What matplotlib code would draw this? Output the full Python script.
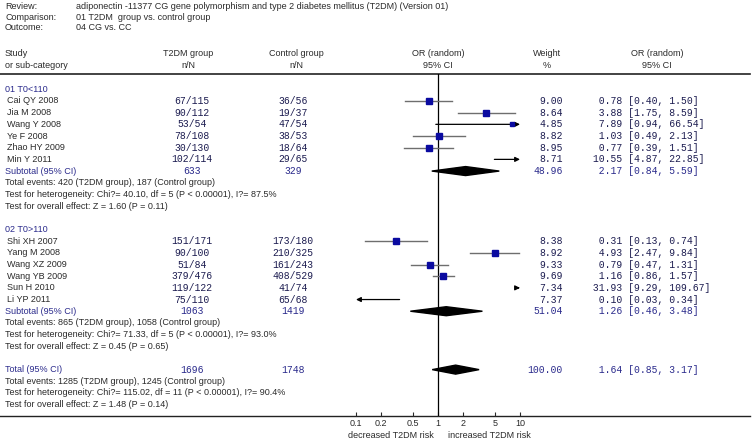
"""
RevMan 风格森林图：adiponectin -11377 CG 多态性与 T2DM
"""
import numpy as np
import matplotlib
matplotlib.use('Agg')
import matplotlib.pyplot as plt
from matplotlib.patches import Polygon

# ---- 数据 ----
review = 'adiponectin -11377 CG gene polymorphism and type 2 diabetes mellitus (T2DM) (Version 01)'
comparison = '01 T2DM  group vs. control group'
outcome = '04 CG vs. CC'

group_names = ['01 T0<110', '02 T0>110']

studies1 = ['Cai QY 2008', 'Jia M 2008', 'Wang Y 2008', 'Ye F 2008', 'Zhao HY 2009', 'Min Y 2011']
t2dm1 = ['67/115', '90/112', '53/54', '78/108', '30/130', '102/114']
ctrl1 = ['36/56', '19/37', '47/54', '38/53', '18/64', '29/65']
weight1 = [9.00, 8.64, 4.85, 8.82, 8.95, 8.71]
or1 = [0.78, 3.88, 7.89, 1.03, 0.77, 10.55]
lo1 = [0.40, 1.75, 0.94, 0.49, 0.39, 4.87]
hi1 = [1.50, 8.59, 66.54, 2.13, 1.51, 22.85]

studies2 = ['Shi XH 2007', 'Yang M 2008', 'Wang XZ 2009', 'Wang YB 2009', 'Sun H 2010', 'Li YP 2011']
t2dm2 = ['151/171', '90/100', '51/84', '379/476', '119/122', '75/110']
ctrl2 = ['173/180', '210/325', '161/243', '408/529', '41/74', '65/68']
weight2 = [8.38, 8.92, 9.33, 9.69, 7.34, 7.37]
or2 = [0.31, 4.93, 0.79, 1.16, 31.93, 0.10]
lo2 = [0.13, 2.47, 0.47, 0.86, 9.29, 0.03]
hi2 = [0.74, 9.84, 1.31, 1.57, 109.67, 0.34]

# 小计 / 合计
pooled_labels = ['Subtotal (95% CI)', 'Subtotal (95% CI)', 'Total (95% CI)']
pooled_t2dm = ['633', '1063', '1696']
pooled_ctrl = ['329', '1419', '1748']
pooled_weight = [48.96, 51.04, 100.00]
pooled_or = [2.17, 1.26, 1.64]
pooled_lo = [0.84, 0.46, 0.85]
pooled_hi = [5.59, 3.48, 3.17]

stats1 = ['Total events: 420 (T2DM group), 187 (Control group)',
          'Test for heterogeneity: Chi?= 40.10, df = 5 (P < 0.00001), I?= 87.5%',
          'Test for overall effect: Z = 1.60 (P = 0.11)']
stats2 = ['Total events: 865 (T2DM group), 1058 (Control group)',
          'Test for heterogeneity: Chi?= 71.33, df = 5 (P < 0.00001), I?= 93.0%',
          'Test for overall effect: Z = 0.45 (P = 0.65)']
stats_total = ['Total events: 1285 (T2DM group), 1245 (Control group)',
               'Test for heterogeneity: Chi?= 115.02, df = 11 (P < 0.00001), I?= 90.4%',
               'Test for overall effect: Z = 1.48 (P = 0.14)']

ticks = [0.1, 0.2, 0.5, 1, 2, 5, 10]
tick_labels = ['0.1', '0.2', '0.5', '1', '2', '5', '10']

# ---- 样式 ----
W, H = 754, 446
SANS = 'Liberation Sans'
MONO = 'Liberation Mono'
FS = 6.5
FM = 7.0
C_TXT = '#2a2a2a'
C_BLUE = '#2b2b8c'
C_NUM = '#1c1c50'
C_SQ = '#0a0aa0'
C_CI = '#6e6e6e'

ROW0, STEP = 89.3, 11.68
X_LEFT = 5
X_T2DM, X_CTRL = 192, 293
X_WEIGHT = 563
X_OR = 587


def row_y(i):
    return ROW0 + STEP * i


fig = plt.figure(figsize=(W / 100, H / 100), dpi=100)
fig.patch.set_facecolor('white')

bg = fig.add_axes([0, 0, 1, 1])
bg.set_xlim(0, W)
bg.set_ylim(H, 0)
bg.axis('off')

# 森林图坐标轴（对数）
fx0, fx1 = 356, 520
fy0, fy1 = 74, 416
ax = fig.add_axes([fx0 / W, (H - fy1) / H, (fx1 - fx0) / W, (fy1 - fy0) / H])
ax.set_xscale('log')
ax.set_xlim(0.1, 10)
ax.set_ylim(fy1, fy0)
ax.patch.set_alpha(0)
for s in ax.spines.values():
    s.set_visible(False)
ax.set_yticks([])
ax.set_xticks(ticks)
ax.set_xticklabels(tick_labels)
ax.xaxis.set_minor_locator(matplotlib.ticker.NullLocator())
ax.tick_params(axis='x', direction='in', length=3, width=0.8, pad=2.5,
               labelsize=FS, colors=C_TXT)
for lab in ax.get_xticklabels():
    lab.set_fontfamily(SANS)
ax.axvline(1, color='black', lw=0.9)


def txt(x, y, s, ha='left', color=C_TXT, mono=False, size=None):
    bg.text(x, y, s, ha=ha, va='center', color=color,
            family=MONO if mono else SANS,
            fontsize=size or (FM if mono else FS))


# 标题区
for y, lab, val in [(6.5, 'Review:', review), (17, 'Comparison:', comparison),
                    (27.5, 'Outcome:', outcome)]:
    txt(X_LEFT, y, lab)
    txt(76, y, val)

txt(X_LEFT, 53, 'Study')
txt(X_LEFT, 65, 'or sub-category')
for x, a, b in [(188, 'T2DM group', 'n/N'), (296, 'Control group', 'n/N'),
                (438, 'OR (random)', '95% CI'), (547, 'Weight', '%'),
                (657, 'OR (random)', '95% CI')]:
    txt(x, 53, a, ha='center')
    txt(x, 65, b, ha='center')

bg.plot([0, 750], [fy0, fy0], color='#222222', lw=1.2)
bg.plot([0, 750], [fy1, fy1], color='#222222', lw=1)


def or_text(est, lo, hi):
    return f'{est:6.2f} [{lo:.2f}, {hi:.2f}]'


def draw_study(y, name, a, b, w, est, lo, hi):
    txt(X_LEFT + 2, y, name)
    txt(X_T2DM, y, a, ha='center', color=C_NUM, mono=True)
    txt(X_CTRL, y, b, ha='center', color=C_NUM, mono=True)
    txt(X_WEIGHT, y, f'{w:.2f}', ha='right', color=C_NUM, mono=True)
    txt(X_OR, y, or_text(est, lo, hi), color=C_NUM, mono=True)
    arrow = dict(arrowstyle='-|>', color='black', lw=0.9,
                 mutation_scale=7, shrinkA=0, shrinkB=0)
    if hi > 10:
        ax.annotate('', xy=(10, y), xytext=(max(lo, 0.1), y),
                    arrowprops=arrow, annotation_clip=False)
    elif lo < 0.1:
        ax.annotate('', xy=(0.1, y), xytext=(hi, y),
                    arrowprops=arrow, annotation_clip=False)
    else:
        ax.plot([lo, hi], [y, y], color=C_CI, lw=1, clip_on=False)
    if 0.1 < est < 10:
        ax.plot(est, y, marker='s', color=C_SQ, ms=3.4 * np.sqrt(w / 9) + 0.6,
                mec=C_SQ, clip_on=False, zorder=3)


def draw_pooled(y, k):
    txt(X_LEFT, y, pooled_labels[k], color=C_BLUE)
    txt(X_T2DM, y, pooled_t2dm[k], ha='center', color=C_BLUE, mono=True)
    txt(X_CTRL, y, pooled_ctrl[k], ha='center', color=C_BLUE, mono=True)
    txt(X_WEIGHT, y, f'{pooled_weight[k]:.2f}', ha='right', color=C_BLUE, mono=True)
    txt(X_OR, y, or_text(pooled_or[k], pooled_lo[k], pooled_hi[k]),
        color=C_BLUE, mono=True)
    h = 4.5
    est, lo, hi = pooled_or[k], pooled_lo[k], pooled_hi[k]
    ax.add_patch(Polygon([(lo, y), (est, y - h), (hi, y), (est, y + h)],
                         closed=True, color='black', clip_on=False, zorder=3))


groups = [(studies1, t2dm1, ctrl1, weight1, or1, lo1, hi1, stats1),
          (studies2, t2dm2, ctrl2, weight2, or2, lo2, hi2, stats2)]
r = 0
for g, (names, a, b, w, e, lo, hi, st) in enumerate(groups):
    txt(X_LEFT, row_y(r), group_names[g], color=C_BLUE)
    r += 1
    for i in range(len(names)):
        draw_study(row_y(r), names[i], a[i], b[i], w[i], e[i], lo[i], hi[i])
        r += 1
    draw_pooled(row_y(r), g)
    r += 1
    for line in st:
        txt(X_LEFT, row_y(r), line)
        r += 1
    r += 1

draw_pooled(row_y(r), 2)
r += 1
for line in stats_total:
    txt(X_LEFT, row_y(r), line)
    r += 1

txt(391, 436, 'decreased T2DM risk', ha='center')
txt(489, 436, 'increased T2DM risk', ha='center')

fig.savefig('out.png', dpi=100)
